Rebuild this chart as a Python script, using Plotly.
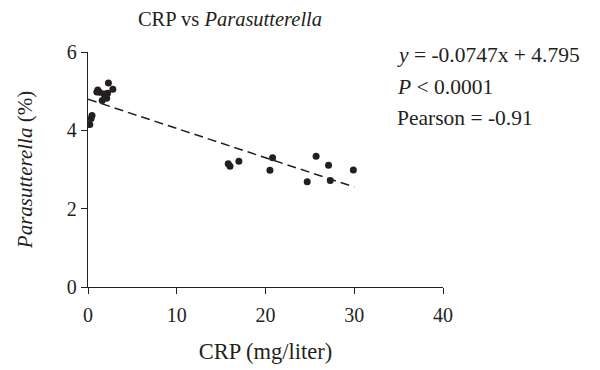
import plotly.graph_objects as go

crp = [0.45, 0.35, 0.2,
       2.3, 1.1, 1.3, 1.8, 2.8, 2.2, 1.6, 2.1, 1.0,
       15.8, 16.0, 17.0,
       20.8, 20.5, 25.7, 27.1, 24.7, 27.3, 29.9]
para = [4.38, 4.30, 4.15,
        5.21, 5.03, 4.97, 4.93, 5.05, 4.95, 4.76, 4.82, 4.98,
        3.15, 3.08, 3.21,
        3.30, 2.98, 3.34, 3.11, 2.69, 2.72, 2.99]
slope = -0.0747
intercept = 4.795
fit_x = [0, 30]
fit_y = [intercept + slope * x for x in fit_x]

x_ticks = [0, 10, 20, 30, 40]
y_ticks = [0, 2, 4, 6]

font = "Liberation Serif"
ink = "#231f20"

# plot area in figure pixels (page has an 8px body margin)
L, T, W, H = 80, 44, 355, 235

fig = go.Figure()
fig.add_trace(go.Scatter(x=fit_x, y=fit_y, mode="lines",
                         line=dict(color=ink, width=1.5, dash="9px,5px"),
                         showlegend=False, hoverinfo="skip"))
fig.add_trace(go.Scatter(x=crp, y=para, mode="markers",
                         marker=dict(color=ink, size=7),
                         showlegend=False))

fig.update_layout(
    width=600, height=370,
    margin=dict(l=L, r=600 - L - W, t=T, b=370 - T - H, autoexpand=False),
    paper_bgcolor="white", plot_bgcolor="white",
    font=dict(family=font, color=ink, size=20),
    title=dict(text="CRP vs <i>Parasutterella</i>", x=222/600, xanchor="center",
               y=1 - 11/370, yanchor="middle", font=dict(size=20.5, family=font)),
    xaxis=dict(range=[0, 40], tickvals=x_ticks, showgrid=False, zeroline=False,
               showline=True, linecolor=ink, linewidth=1.3,
               ticks="outside", ticklen=6, tickwidth=1.3, tickcolor=ink,
               ticklabelstandoff=4,
               title=dict(text="CRP (mg/liter)", standoff=18, font=dict(size=22.5)),
               tickfont=dict(size=20)),
    yaxis=dict(range=[0, 6], tickvals=y_ticks, showgrid=False, zeroline=False,
               showline=True, linecolor=ink, linewidth=1.3,
               ticks="outside", ticklen=6, tickwidth=1.3, tickcolor=ink,
               title=dict(text="<i>Parasutterella</i> (%)", standoff=28, font=dict(size=21)),
               tickfont=dict(size=20)),
)

ann = ["<i>y</i> = -0.0747x + 4.795", "<i>P</i> &lt; 0.0001", "Pearson = -0.91"]
ys = [47, 79, 110]
for t, yy in zip(ann, ys):
    fig.add_annotation(text=t, xref="paper", yref="paper",
                       x=(387 - L) / W, y=(T + H - yy) / H, xanchor="left", yanchor="middle",
                       showarrow=False, font=dict(size=21.5, family=font, color=ink))

fig.write_html("out.html")
